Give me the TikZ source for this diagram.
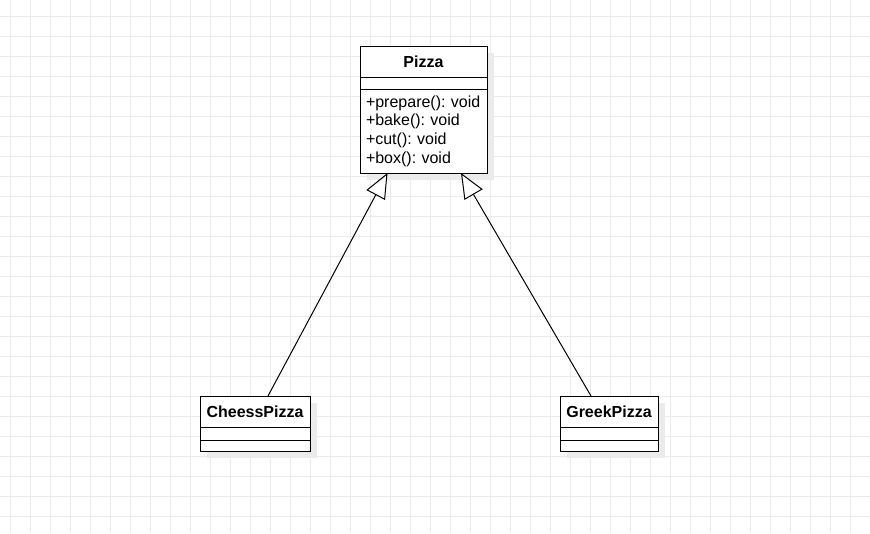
\documentclass[tikz,border=0pt]{standalone}
\usepackage{fontspec}
\setmainfont{Liberation Sans}
\usetikzlibrary{positioning,arrows.meta,shadows}

\begin{document}
\begin{tikzpicture}[x=1pt,y=-1pt,
   gridline/.style={draw=black!8,line width=1pt},
   umlpart/.style={draw,fill=white,line width=1pt,inner sep=0pt,outer sep=0pt,
      drop shadow={shadow xshift=7pt,shadow yshift=-7pt,fill=black!8,opacity=1}},
   umltitle/.style={umlpart,minimum height=31pt,font=\bfseries\fontsize{16}{18.6}\selectfont},
   umlops/.style={umlpart,font=\frenchspacing\fontsize{16}{18.6}\selectfont},
   inherit/.style={line width=1pt,-{Triangle[length=25pt,width=21pt,fill=white]}}]
   \useasboundingbox (0,0) rectangle (870,533);
   \foreach \gx in {10,30,...,870} \draw[gridline] (\gx,0) -- (\gx,533);
   \foreach \gy in {16,36,...,533} \draw[gridline] (0,\gy) -- (870,\gy);

   \node[umltitle,minimum width=127pt,anchor=north west] (pizza) at (360,46) {Pizza};
   \node[umlpart,minimum width=127pt,minimum height=12pt,below=0pt of pizza] (pizzaattr) {};
   \node[umlops,minimum width=127pt,minimum height=84pt,inner xsep=6pt,text width=115pt,align=left,below=0pt of pizzaattr] (pizzaops)
      {+prepare():~void\\+bake():~void\\+cut():~void\\+box():~void};

   \node[umltitle,minimum width=110pt,anchor=north west] (cheess) at (200,396) {CheessPizza};
   \node[umlpart,minimum width=110pt,minimum height=13pt,below=0pt of cheess] (cheessattr) {};
   \node[umlpart,minimum width=110pt,minimum height=11pt,below=0pt of cheessattr] (cheessops) {};

   \node[umltitle,minimum width=98pt,anchor=north west] (greek) at (560,396) {GreekPizza};
   \node[umlpart,minimum width=98pt,minimum height=13pt,below=0pt of greek] (greekattr) {};
   \node[umlpart,minimum width=98pt,minimum height=11pt,below=0pt of greekattr] (greekops) {};

   \draw[inherit] ([xshift=13pt]cheess.north) -- ([xshift=-36pt]pizzaops.south);
   \draw[inherit] ([xshift=-18pt]greek.north) -- ([xshift=37.5pt]pizzaops.south);
\end{tikzpicture}
\end{document}
